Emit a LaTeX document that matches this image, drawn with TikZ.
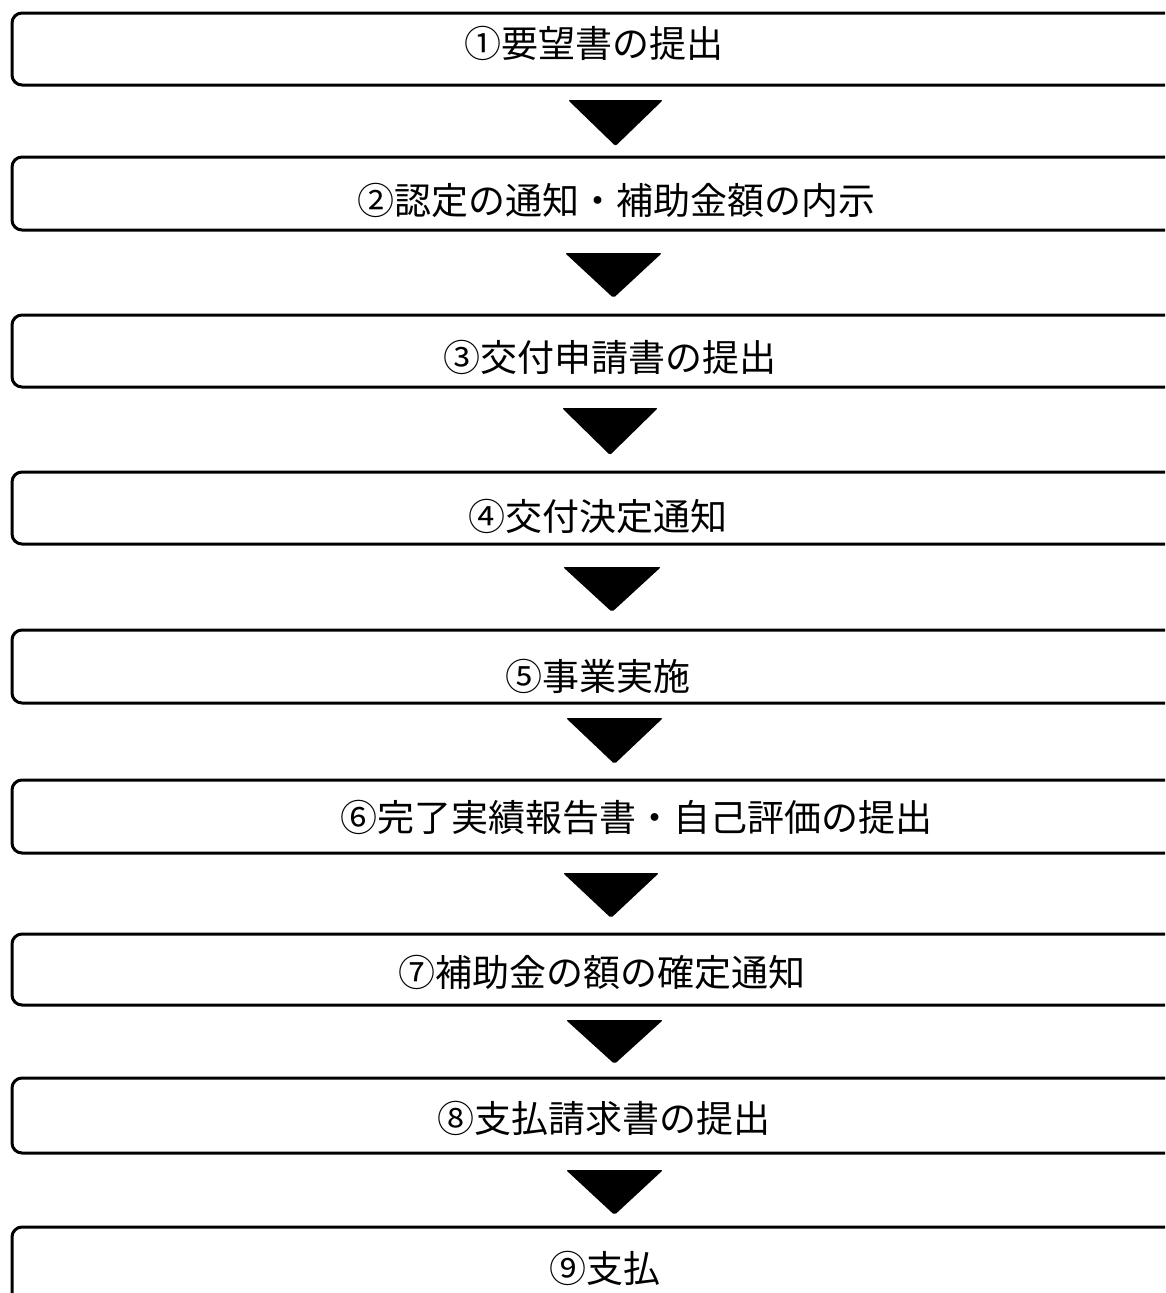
\documentclass[tikz,border=0pt]{standalone}
\usepackage{fontspec}
\newfontfamily\cjk{Noto Sans CJK JP}
\usetikzlibrary{positioning}
\begin{document}
\begin{tikzpicture}[x=1pt,y=-1pt,
  stepbox/.style={draw=black,line width=3pt,rounded corners=10pt},
  steplabel/.style={font=\cjk\fontsize{37}{40}\selectfont,inner sep=0pt,anchor=center},
  downtri/.style={fill=black,rounded corners=2pt}]
\useasboundingbox (0,0) rectangle (1165,1293);
\clip (0,0) rectangle (1165,1293);
\fill[white] (0,0) rectangle (1165,1293);
% boxes
\foreach \i/\t/\b in {1/13/85,2/157/230,3/315/387,4/472/544,5/630/703,6/780/853,7/934/1005,8/1078/1153,9/1227/1320}{
  \draw[stepbox] (12,\t) rectangle (1200,\b);
  \coordinate (box\i) at (12,\t);
}
% labels
\node[steplabel] (t1) at (594,43) {①要望書の提出};
\node[steplabel] (t2) at (616,200) {②認定の通知・補助金額の内示};
\node[steplabel] (t3) at (610,357) {③交付申請書の提出};
\node[steplabel] (t4) at (598,516) {④交付決定通知};
\node[steplabel] (t5) at (598,676) {⑤事業実施};
\node[steplabel] (t6) at (636,817) {⑥完了実績報告書・自己評価の提出};
\node[steplabel] (t7) at (602,972) {⑦補助金の額の確定通知};
\node[steplabel] (t8) at (604,1118) {⑧支払請求書の提出};
\node[steplabel] (t9) at (605,1268) {⑨支払};
% arrows
\foreach \i/\l/\r/\t/\b in {1/568/663/100/146,2/565/662/253/298,3/562/658/408/455,4/563/661/567/612,5/566/663/718/764,6/563/659/873/918,7/566/663/1020/1064,8/566/663/1170/1215}{
  \fill[downtri] (\l,\t) -- (\r,\t) -- ({(\l+\r)/2},\b) -- cycle;
  \coordinate (arr\i) at ({(\l+\r)/2},\b);
}
\end{tikzpicture}
\end{document}
